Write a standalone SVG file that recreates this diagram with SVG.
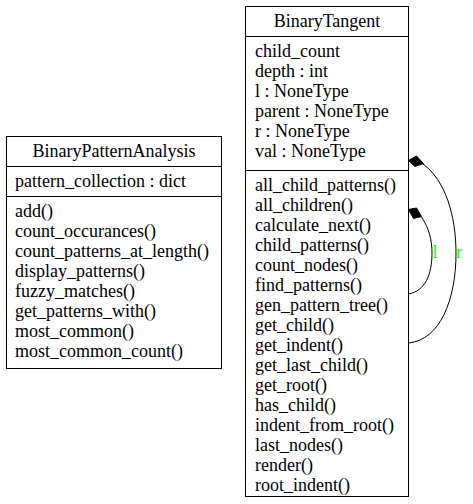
<svg xmlns="http://www.w3.org/2000/svg" width="473" height="504" viewBox="0 0 473 504">
<style>
text{font-family:'Liberation Serif',serif;font-size:18px;fill:#000}
.t{text-anchor:middle}
.box{fill:#fff;stroke:#000;stroke-width:1}
.ln{stroke:#000;stroke-width:1}
.e{fill:none;stroke:#000;stroke-width:1}
.lab{fill:#00ff00;text-anchor:middle}
</style>
<rect width="473" height="504" fill="#fff"/>
<g id="BinaryTangent">
<rect class="box" x="245.5" y="6.5" width="163" height="490"/>
<line class="ln" x1="245.5" y1="36.5" x2="408.5" y2="36.5"/>
<line class="ln" x1="245.5" y1="170.5" x2="408.5" y2="170.5"/>
<text class="t" x="327" y="27">BinaryTangent</text>
<text x="255" y="57">child_count</text>
<text x="255" y="77">depth : int</text>
<text x="255" y="97">l : NoneType</text>
<text x="255" y="117">parent : NoneType</text>
<text x="255" y="137">r : NoneType</text>
<text x="255" y="157">val : NoneType</text>
<text x="255" y="191">all_child_patterns()</text>
<text x="255" y="211">all_children()</text>
<text x="255" y="231">calculate_next()</text>
<text x="255" y="251">child_patterns()</text>
<text x="255" y="271">count_nodes()</text>
<text x="255" y="291">find_patterns()</text>
<text x="255" y="311">gen_pattern_tree()</text>
<text x="255" y="331">get_child()</text>
<text x="255" y="351">get_indent()</text>
<text x="255" y="371">get_last_child()</text>
<text x="255" y="391">get_root()</text>
<text x="255" y="411">has_child()</text>
<text x="255" y="431">indent_from_root()</text>
<text x="255" y="451">last_nodes()</text>
<text x="255" y="471">render()</text>
<text x="255" y="491">root_indent()</text>
</g>
<g id="BinaryPatternAnalysis">
<rect class="box" x="6.5" y="136.5" width="215" height="232"/>
<line class="ln" x1="6.5" y1="166.5" x2="221.5" y2="166.5"/>
<line class="ln" x1="6.5" y1="196.5" x2="221.5" y2="196.5"/>
<text class="t" x="114" y="157">BinaryPatternAnalysis</text>
<text x="15" y="187">pattern_collection : dict</text>
<text x="15" y="217">add()</text>
<text x="15" y="237">count_occurances()</text>
<text x="15" y="257">count_patterns_at_length()</text>
<text x="15" y="277">display_patterns()</text>
<text x="15" y="297">fuzzy_matches()</text>
<text x="15" y="317">get_patterns_with()</text>
<text x="15" y="337">most_common()</text>
<text x="15" y="357">most_common_count()</text>
</g>
<g id="connectors">
<path class="e" d="M423,164 C445,180 456,215 456,253 C456,300 440,340 408.5,343"/>
<polygon points="408.5,160.5 416.5,156 423.5,163.5 415,166.5" fill="#000" stroke="#000"/>
<text class="lab" x="459" y="258">r</text>
<path class="e" d="M421.5,217 C429,228 432,240 432,253 C432,275 425,291 408.5,294"/>
<polygon points="408.5,209.5 416.5,208 421.5,216.5 413.5,218.5" fill="#000" stroke="#000"/>
<text class="lab" x="435" y="258">l</text>
</g>
</svg>
